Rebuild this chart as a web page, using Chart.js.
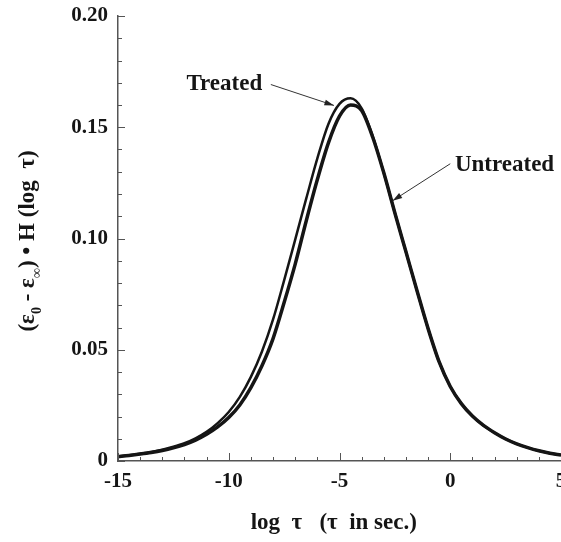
<!DOCTYPE html>
<html>
<head>
<meta charset="utf-8">
<script src="https://cdn.jsdelivr.net/npm/chart.js@4.4.1/dist/chart.umd.min.js"></script>
<style>
  html, body { margin: 0; padding: 0; background: #fff; overflow: hidden; }
  #wrap { width: 561px; height: 542px; overflow: hidden; }
</style>
</head>
<body>
<div id="wrap"><canvas id="chart" width="600" height="542"></canvas></div>
<script>
// log tau (x values), step 0.5
const logTau = [-15, -14.5, -14, -13.5, -13, -12.5, -12, -11.5, -11, -10.5, -10, -9.5, -9, -8.5, -8, -7.5, -7, -6.5, -6, -5.5, -5,
  -4.5, -4, -3.5, -3, -2.5, -2, -1.5, -1, -0.5, 0, 0.5, 1, 1.5, 2, 2.5, 3, 3.5, 4, 4.5, 5];

const untreated = [0.0020, 0.0025, 0.0031, 0.0038, 0.0047, 0.0059, 0.0074, 0.0094, 0.0120, 0.0153, 0.0195, 0.0252, 0.0330,
  0.0428, 0.0550, 0.0712, 0.0885, 0.1080, 0.1265, 0.1430, 0.1550, 0.1600, 0.1575, 0.1455, 0.1295, 0.1115, 0.0940,
  0.0765, 0.0595, 0.0445, 0.0335, 0.0258, 0.0202, 0.0160, 0.0127, 0.0099, 0.0077, 0.0060, 0.0046, 0.0035, 0.0027];

const treated = [0.0021, 0.0026, 0.0033, 0.0041, 0.0051, 0.0064, 0.0080, 0.0102, 0.0131, 0.0170, 0.0220, 0.0288, 0.0378,
  0.0492, 0.0636, 0.0812, 0.0995, 0.1180, 0.1360, 0.1515, 0.1605, 0.1630, 0.1585, 0.1460, 0.1295, 0.1115, 0.0940,
  0.0765, 0.0595, 0.0445, 0.0335, 0.0258, 0.0202, 0.0160, 0.0127, 0.0099, 0.0077, 0.0060, 0.0046, 0.0035, 0.0027];

const xTicks = [-15, -10, -5, 0, 5];
const yTicks = [0, 0.05, 0.10, 0.15, 0.20];
const yTickLabels = ['0', '0.05', '0.10', '0.15', '0.20'];

// annotation labels: [text, x, y] and arrows [x1, y1, x2, y2] in data units
const labelTexts = ['Treated', 'Untreated'];
const labelPos = [[-10.2, 0.1695], [2.45, 0.1328]];
const arrowPos = [[-8.1, 0.1692, -5.25, 0.1598], [0.0, 0.1336, -2.6, 0.1170]];

const SERIF = "'Liberation Serif', 'DejaVu Serif', serif";
const INK = '#151515';
const AXIS = '#555';

function toPts(ys) {
  return logTau.map((x, i) => ({ x: x, y: ys[i] }));
}

// inward tick marks, major and minor
const tickMarks = {
  id: 'tickMarks',
  afterDatasetsDraw(chart) {
    const { ctx, scales: { x, y } } = chart;
    ctx.save();
    ctx.strokeStyle = AXIS;
    ctx.lineWidth = 1;
    for (let v = -15; v <= 5; v++) {
      const px = Math.round(x.getPixelForValue(v)) + 0.5;
      const len = (v % 5 === 0) ? 8 : 4;
      ctx.beginPath();
      ctx.moveTo(px, y.bottom);
      ctx.lineTo(px, y.bottom - len);
      ctx.stroke();
    }
    for (let k = 0; k <= 20; k++) {
      const py = Math.round(y.getPixelForValue(k / 100)) + 0.5;
      const len = (k % 5 === 0) ? 7 : 4;
      ctx.beginPath();
      ctx.moveTo(x.left, py);
      ctx.lineTo(x.left + len, py);
      ctx.stroke();
    }
    ctx.restore();
  }
};

// labels with arrows
const annotations = {
  id: 'annotations',
  afterDatasetsDraw(chart) {
    const { ctx, scales: { x, y } } = chart;
    ctx.save();
    ctx.fillStyle = INK;
    ctx.font = 'bold 23px ' + SERIF;
    ctx.textAlign = 'center';
    ctx.textBaseline = 'middle';
    labelTexts.forEach((t, i) => {
      ctx.fillText(t, x.getPixelForValue(labelPos[i][0]), y.getPixelForValue(labelPos[i][1]));
    });
    arrowPos.forEach(a => {
      const x1 = x.getPixelForValue(a[0]), y1 = y.getPixelForValue(a[1]);
      const x2 = x.getPixelForValue(a[2]), y2 = y.getPixelForValue(a[3]);
      const ang = Math.atan2(y2 - y1, x2 - x1);
      ctx.strokeStyle = '#333';
      ctx.lineWidth = 1;
      ctx.beginPath();
      ctx.moveTo(x1, y1);
      ctx.lineTo(x2, y2);
      ctx.stroke();
      ctx.beginPath();
      ctx.moveTo(x2, y2);
      ctx.lineTo(x2 - 10 * Math.cos(ang - 0.3), y2 - 10 * Math.sin(ang - 0.3));
      ctx.lineTo(x2 - 10 * Math.cos(ang + 0.3), y2 - 10 * Math.sin(ang + 0.3));
      ctx.closePath();
      ctx.fillStyle = '#222';
      ctx.fill();
    });
    ctx.restore();
  }
};

// rotated y title with subscripts
const yTitle = {
  id: 'yTitle',
  afterDraw(chart) {
    const { ctx } = chart;
    const big = 'bold 23px ' + SERIF;
    const small = 'bold 14px ' + SERIF;
    const parts = [
      ['(\u03b5', big, 0], ['0', small, 7], [' - \u03b5', big, 0], ['\u221e', small, 7],
      [') \u2022 H (log  \u03c4)', big, 0]
    ];
    ctx.save();
    ctx.fillStyle = INK;
    ctx.textBaseline = 'alphabetic';
    let total = 0;
    parts.forEach(p => { ctx.font = p[1]; total += ctx.measureText(p[0]).width; });
    ctx.translate(34, 241);
    ctx.rotate(-Math.PI / 2);
    let cx = -total / 2;
    parts.forEach(p => {
      ctx.font = p[1];
      ctx.fillText(p[0], cx, p[2]);
      cx += ctx.measureText(p[0]).width;
    });
    ctx.restore();
  }
};

new Chart(document.getElementById('chart'), {
  type: 'line',
  data: {
    datasets: [
      {
        label: 'Untreated',
        data: toPts(untreated),
        borderColor: INK,
        borderWidth: 3.5,
        pointRadius: 0,
        cubicInterpolationMode: 'monotone',
        fill: false
      },
      {
        label: 'Treated',
        data: toPts(treated),
        borderColor: INK,
        borderWidth: 2.5,
        pointRadius: 0,
        cubicInterpolationMode: 'monotone',
        fill: false
      }
    ]
  },
  options: {
    responsive: false,
    animation: false,
    events: [],
    layout: { padding: { top: 16, right: 39, bottom: 0, left: 0 } },
    plugins: { legend: { display: false }, tooltip: { enabled: false } },
    scales: {
      x: {
        type: 'linear',
        min: -15,
        max: 5,
        afterFit(s) { s.height = 81; s.paddingLeft = 0; s.paddingRight = 0; },
        afterBuildTicks(s) { s.ticks = xTicks.map(v => ({ value: v })); },
        grid: { display: false, drawTicks: false },
        border: { display: true, color: AXIS, width: 1.5 },
        ticks: {
          color: INK,
          padding: 8,
          maxRotation: 0,
          font: { family: SERIF, size: 21, weight: 'bold' },
          callback: v => String(v)
        },
        title: {
          display: true,
          text: 'log  \u03c4   (\u03c4  in sec.)  ',
          color: INK,
          padding: { top: 0, bottom: 5 },
          font: { family: SERIF, size: 23, weight: 'bold' }
        }
      },
      y: {
        type: 'linear',
        min: 0,
        max: 0.2,
        afterFit(s) { s.width = 118; s.paddingTop = 0; s.paddingBottom = 0; },
        afterBuildTicks(s) { s.ticks = yTicks.map(v => ({ value: v })); },
        grid: { display: false, drawTicks: false },
        border: { display: true, color: AXIS, width: 1.5 },
        ticks: {
          color: INK,
          padding: 10,
          font: { family: SERIF, size: 21, weight: 'bold' },
          callback: (v, i) => yTickLabels[i]
        }
      }
    }
  },
  plugins: [tickMarks, annotations, yTitle]
});
</script>
</body>
</html>
